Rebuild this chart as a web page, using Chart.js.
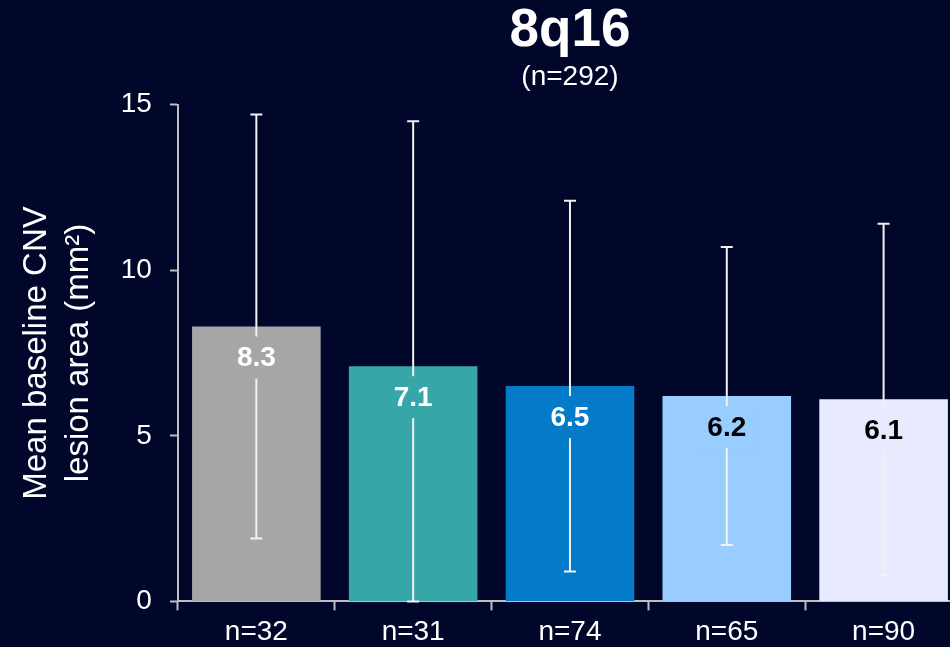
<!DOCTYPE html>
<html>
<head>
<meta charset="utf-8">
<script src="https://cdn.jsdelivr.net/npm/chart.js@4"></script>
<style>
  html, body { margin: 0; padding: 0; background: #01072a; overflow: hidden; }
  canvas { display: block; }
</style>
</head>
<body>
<canvas id="lesionChart" width="970" height="654"></canvas>
<script>
const groups = ["n=32", "n=31", "n=74", "n=65", "n=90"];
const means = [8.3, 7.1, 6.5, 6.2, 6.1];
const errUpper = [14.7, 14.5, 12.1, 10.7, 11.4];
const errLower = [1.9, 0, 0.9, 1.7, 0.8];
const barColors = ["#a6a6a6", "#36a6a9", "#037bc8", "#99ccff", "#e8eaff"];
const labelColors = ["#ffffff", "#ffffff", "#ffffff", "#000000", "#000000"];

const FONT = "'Liberation Sans', Arial, sans-serif";

// error bars + value labels (label box hides the whisker behind it)
const errorBars = {
  id: "errorBars",
  afterDatasetsDraw(chart) {
    const ctx = chart.ctx;
    const y = chart.scales.y;
    const bars = chart.getDatasetMeta(0).data;
    ctx.save();
    bars.forEach((bar, i) => {
      const top = y.getPixelForValue(errUpper[i]);
      const bottom = y.getPixelForValue(errLower[i]);
      ctx.strokeStyle = "#f2f2f2";
      ctx.lineWidth = 2;
      ctx.beginPath();
      ctx.moveTo(bar.x, top);
      ctx.lineTo(bar.x, bottom);
      ctx.moveTo(bar.x - 6, top);
      ctx.lineTo(bar.x + 6, top);
      ctx.moveTo(bar.x - 6, bottom);
      ctx.lineTo(bar.x + 6, bottom);
      ctx.stroke();

      const ly = bar.y + 31;
      ctx.fillStyle = barColors[i];
      ctx.fillRect(bar.x - 32, ly - 21, 64, 42);
      ctx.fillStyle = labelColors[i];
      ctx.font = "bold 28px " + FONT;
      ctx.textAlign = "center";
      ctx.textBaseline = "middle";
      ctx.fillText(means[i].toFixed(1), bar.x, ly + 1);
    });
    ctx.restore();
  }
};

new Chart("lesionChart", {
  type: "bar",
  data: {
    labels: groups,
    datasets: [
      {
        data: means,
        backgroundColor: barColors,
        barPercentage: 0.82,
        categoryPercentage: 1,
      },
    ],
  },
  options: {
    responsive: false,
    animation: false,
    layout: { padding: { right: 8 } },
    plugins: {
      legend: { display: false },
      tooltip: { enabled: false },
      title: {
        display: true,
        text: "8q16",
        color: "#ffffff",
        fullSize: false,
        font: { family: FONT, size: 53, weight: "bold", lineHeight: 1.2 },
        padding: { top: 0, bottom: 0 },
      },
      subtitle: {
        display: true,
        text: "(n=292)",
        color: "#ffffff",
        fullSize: false,
        font: { family: FONT, size: 28, lineHeight: 1 },
        padding: { top: 0, bottom: 13 },
      },
    },
    scales: {
      x: {
        grid: {
          drawOnChartArea: false,
          tickColor: "#bfbfbf",
          tickWidth: 2,
          tickLength: 9,
        },
        border: { color: "#bfbfbf", width: 2 },
        ticks: {
          color: "#ffffff",
          font: { family: FONT, size: 28 },
          padding: 5,
        },
      },
      y: {
        min: 0,
        max: 15,
        grid: {
          drawOnChartArea: false,
          tickColor: "#bfbfbf",
          tickWidth: 2,
          tickLength: 8,
        },
        border: { color: "#bfbfbf", width: 2 },
        ticks: {
          stepSize: 5,
          color: "#ffffff",
          font: { family: FONT, size: 28 },
          padding: 18,
        },
        title: {
          display: true,
          text: ["Mean baseline CNV", "lesion area (mm\u00b2)"],
          color: "#ffffff",
          font: { family: FONT, size: 33, lineHeight: 1.3 },
          padding: { top: 15, bottom: 2 },
        },
      },
    },
  },
  plugins: [errorBars],
});
</script>
</body>
</html>
